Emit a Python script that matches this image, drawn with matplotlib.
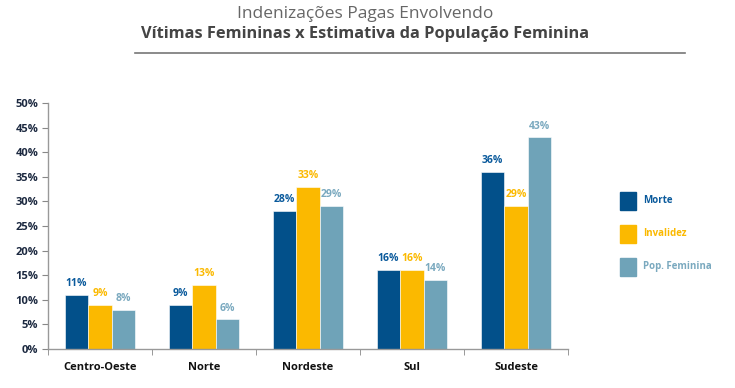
import numpy as np
import matplotlib.pyplot as plt
from matplotlib.patches import Rectangle
from matplotlib.lines import Line2D

regioes = ['Centro-Oeste', 'Norte', 'Nordeste', 'Sul', 'Sudeste']
morte = [11, 9, 28, 16, 36]
invalidez = [9, 13, 33, 16, 29]
pop_feminina = [8, 6, 29, 14, 43]
series_names = ['Morte', 'Invalidez', 'Pop. Feminina']
yticks = [0, 5, 10, 15, 20, 25, 30, 35, 40, 45, 50]

colors = ['#02508a', '#fbb900', '#6fa3b8']
label_colors = ['#0a5a9c', '#fbb900', '#7aa9bf']
navy = '#1c2940'

plt.rcParams['font.family'] = ['Open Sans', 'DejaVu Sans']

fig = plt.figure(figsize=(7.35, 3.88), dpi=100)
ax = fig.add_axes([0.0653, 0.1005, 0.7075, 0.634])

x = np.arange(len(regioes))
w = 0.225
for i, vals in enumerate([morte, invalidez, pop_feminina]):
    pos = x + (i - 1) * w
    ax.bar(pos, vals, width=w, color=colors[i], edgecolor='white', linewidth=0.4)
    for px, v in zip(pos, vals):
        ax.text(px, v + 1.2, f'{v}%', ha='center', va='bottom', fontsize=7.5,
                fontweight='bold', color=label_colors[i])

ax.set_xlim(-0.5, len(regioes) - 0.5)
ax.set_ylim(0, 50)
ax.set_yticks(yticks)
ax.set_yticklabels([f'{t}%' for t in yticks], fontsize=8, fontweight='bold', color=navy)
ax.set_xticks(x)
ax.set_xticklabels(regioes, fontsize=8, fontweight='bold', color='#111111')
ax.set_xticks(np.arange(-0.5, len(regioes), 1), minor=True)
ax.tick_params(axis='x', which='major', length=0, pad=9)
ax.tick_params(axis='x', which='minor', length=4, color='#888888', direction='out')
ax.tick_params(axis='y', length=4, color='#888888', direction='out', pad=3)
for s in ['top', 'right']:
    ax.spines[s].set_visible(False)
for s in ['left', 'bottom']:
    ax.spines[s].set_color('#999999')
    ax.spines[s].set_linewidth(1)

# title
fig.text(0.497, 0.965, 'Indenizações Pagas Envolvendo', ha='center', va='center',
         fontsize=12.5, color='#666666')
fig.text(0.497, 0.913, 'Vítimas Femininas x Estimativa da População Feminina', ha='center',
         va='center', fontsize=11.8, fontweight='bold', color='#444444')
fig.add_artist(Line2D([0.184, 0.932], [0.863, 0.863], color='#777777', linewidth=1.2,
                      transform=fig.transFigure))

# legend
leg_y = [0.482, 0.397, 0.312]
for i, name in enumerate(series_names):
    fig.add_artist(Rectangle((0.844, leg_y[i] - 0.023), 0.021, 0.046, color=colors[i],
                             transform=fig.transFigure))
    fig.text(0.875, leg_y[i], name, ha='left', va='center', fontsize=7,
             fontweight='bold', color=label_colors[i])

fig.savefig('out.png', dpi=100)
